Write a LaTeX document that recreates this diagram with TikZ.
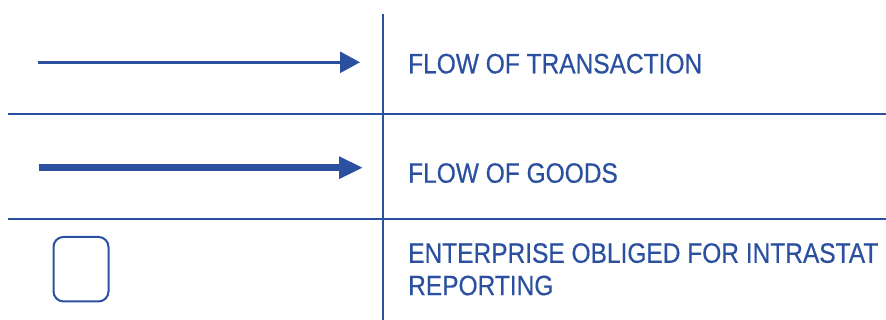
\documentclass[tikz,border=0pt]{standalone}
\usepackage{fontspec}
\setmainfont{Liberation Sans}[FakeStretch=0.875, FakeBold=0.4]
\usepackage{tikz}
\usetikzlibrary{arrows.meta}
\definecolor{legblue}{HTML}{2B50A0}

\begin{document}
\begin{tikzpicture}[x=1pt, y=-1pt, line cap=butt,
  grid/.style = {draw=legblue, line width=2pt},
  label/.style = {anchor=base west, inner sep=0pt, text=legblue, font=\fontsize{28}{32.4}\selectfont, align=left}]
  \useasboundingbox (0,0) rectangle (886,320);
  % table lines
  \coordinate (top) at (383.3,14);
  \coordinate (bot) at (383.3,320);
  \coordinate (l1) at (8,114.3);
  \coordinate (r1) at (886,114.3);
  \coordinate (l2) at (8,219.3);
  \coordinate (r2) at (886,219.3);
  \draw[grid] (top) -- (bot);
  \draw[grid] (l1) -- (r1);
  \draw[grid] (l2) -- (r2);
  % arrows
  \coordinate (ta) at (37.7,62.3);
  \coordinate (tb) at (360,62.3);
  \draw[legblue, line width=3pt, -{Triangle[length=20pt,width=21pt]}] (ta) -- (tb);
  \coordinate (ga) at (38.7,167.7);
  \coordinate (gb) at (363,167.7);
  \draw[legblue, line width=7pt, -{Triangle[length=24pt,width=21pt]}] (ga) -- (gb);
  % enterprise box
  \node[draw=legblue, line width=2pt, rounded corners=10pt, minimum width=55pt, minimum height=64.5pt, inner sep=0pt] (ent) at (81,269.2) {};
  % texts
  \node[label] (trans) at (408,73.3) {FLOW OF TRANSACTION};
  \node[label] (goods) at (408,182.7) {FLOW OF GOODS};
  \node[label, anchor=north west] (oblig) at (408,243) {ENTERPRISE OBLIGED FOR INTRASTAT\\REPORTING};
\end{tikzpicture}
\end{document}
